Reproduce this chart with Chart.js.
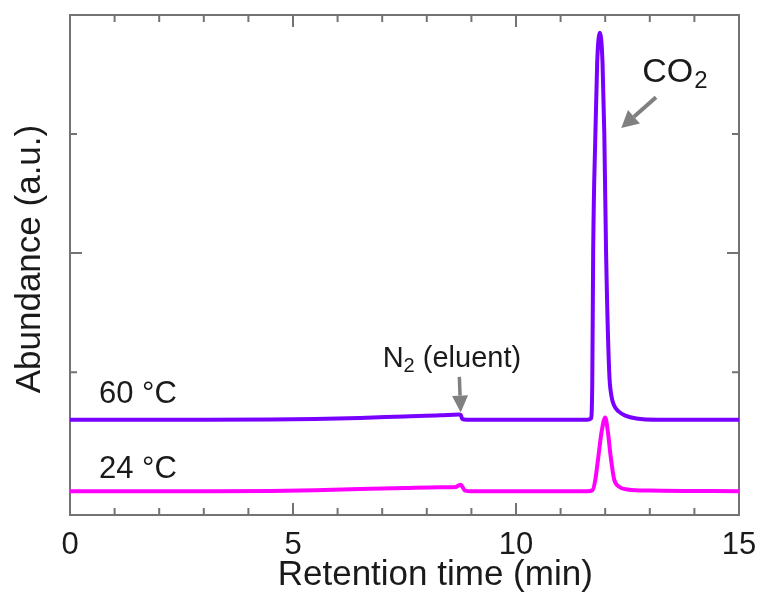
<!DOCTYPE html>
<html>
<head>
<meta charset="utf-8">
<script src="https://cdn.jsdelivr.net/npm/chart.js@4/dist/chart.umd.min.js"></script>
<style>
  html, body { margin: 0; padding: 0; background: #fff; }
  #wrap { width: 764px; height: 601px; }
</style>
</head>
<body>
<div id="wrap"><canvas id="gc"></canvas></div>
<script>
// retention times (min) and abundance (a.u.)
const times60 = [0, 3, 4.5, 5.5, 6.5, 7.5, 8.3, 8.72, 8.76, 8.8, 8.9, 10, 11.6, 11.68, 11.71, 11.73, 11.78, 11.82, 11.88, 11.94, 11.98, 12.02, 12.09, 12.14, 12.2, 12.3, 12.45, 12.7, 13.2, 15];
const abund60 = [0.6, 0.6, 0.602, 0.607, 0.615, 0.628, 0.637, 0.645, 0.64, 0.605, 0.6, 0.6, 0.6, 0.61, 0.9, 2.0, 3.0, 3.6, 3.85, 3.6, 3.0, 2.0, 1.0, 0.8, 0.72, 0.67, 0.635, 0.61, 0.6, 0.6];

const times24 = [0, 3, 4.5, 5.5, 6.5, 7.5, 8.3, 8.65, 8.72, 8.76, 8.8, 8.86, 9, 11.6, 11.72, 11.78, 11.85, 11.92, 12.0, 12.06, 12.12, 12.2, 12.3, 12.5, 13, 15];
const abund24 = [0, 0, 0.002, 0.008, 0.018, 0.027, 0.033, 0.036, 0.05, 0.055, 0.035, 0.005, 0, 0, 0.01, 0.1, 0.3, 0.5, 0.62, 0.5, 0.3, 0.1, 0.04, 0.015, 0.005, 0];

const xTickLabels = [0, 5, 10, 15];

const FONT = '"Liberation Sans", Arial, Helvetica, sans-serif';
Chart.defaults.font.family = FONT;

function toPoints(xs, ys) {
  return xs.map((t, i) => ({ x: t, y: ys[i] }));
}

function arrow(ctx, x1, y1, x2, y2, hl, hw) {
  const ang = Math.atan2(y2 - y1, x2 - x1);
  const bx = x2 - hl * Math.cos(ang), by = y2 - hl * Math.sin(ang);
  ctx.beginPath();
  ctx.moveTo(x1, y1);
  ctx.lineTo(bx, by);
  ctx.stroke();
  ctx.beginPath();
  ctx.moveTo(x2, y2);
  ctx.lineTo(bx + hw * Math.sin(ang), by - hw * Math.cos(ang));
  ctx.lineTo(bx - hw * Math.sin(ang), by + hw * Math.cos(ang));
  ctx.closePath();
  ctx.fill();
}

const frameAndNotes = {
  id: 'frameAndNotes',
  beforeDatasetsDraw(chart) {
    const { ctx, chartArea: a, scales: { x, y } } = chart;
    ctx.save();
    ctx.strokeStyle = '#737373';
    ctx.lineWidth = 2;
    ctx.strokeRect(a.left, a.top, a.right - a.left, a.bottom - a.top);
    ctx.beginPath();
    for (let t = 0; t <= 15; t++) {
      const px = x.getPixelForValue(t);
      const len = t % 5 === 0 ? 12 : 7;
      ctx.moveTo(px, a.bottom); ctx.lineTo(px, a.bottom - len);
      ctx.moveTo(px, a.top); ctx.lineTo(px, a.top + len);
    }
    for (let v = 0; v <= 4; v++) {
      const py = y.getPixelForValue(v);
      const len = v % 2 === 0 ? 12 : 7;
      ctx.moveTo(a.left, py); ctx.lineTo(a.left + len, py);
      ctx.moveTo(a.right, py); ctx.lineTo(a.right - len, py);
    }
    ctx.stroke();
    ctx.restore();
  },
  afterDraw(chart) {
    const { ctx, chartArea: a, scales: { x, y } } = chart;
    ctx.save();
    ctx.fillStyle = '#1a1a1a';
    ctx.textBaseline = 'alphabetic';

    // axis titles
    ctx.font = '35px ' + FONT;
    ctx.textAlign = 'center';
    ctx.fillText('Retention time (min)', x.getPixelForValue(8.19), a.bottom + 70);
    ctx.save();
    ctx.translate(a.left - 30, y.getPixelForValue(1.95));
    ctx.rotate(-Math.PI / 2);
    ctx.font = '35px ' + FONT;
    ctx.fillText('Abundance (a.u.)', 0, 0);
    ctx.restore();

    // series labels
    ctx.textAlign = 'left';
    ctx.font = '31px ' + FONT;
    ctx.fillText('60 °C', x.getPixelForValue(0.65), y.getPixelForValue(0.741));
    ctx.fillText('24 °C', x.getPixelForValue(0.65), y.getPixelForValue(0.111));

    // CO2 label
    let px = x.getPixelForValue(12.83), py = y.getPixelForValue(3.437);
    ctx.font = '34px ' + FONT;
    ctx.fillText('CO', px, py);
    px += ctx.measureText('CO').width + 1;
    ctx.font = '24px ' + FONT;
    ctx.fillText('2', px, py + 6);

    // N2 label
    px = x.getPixelForValue(7.01); py = y.getPixelForValue(1.043);
    ctx.font = '29px ' + FONT;
    ctx.fillText('N', px, py);
    px += ctx.measureText('N').width;
    ctx.font = '20px ' + FONT;
    ctx.fillText('2', px, py + 5);
    px += ctx.measureText('2').width;
    ctx.font = '29px ' + FONT;
    ctx.fillText(' (eluent)', px, py);

    // arrows
    ctx.strokeStyle = '#808080';
    ctx.fillStyle = '#808080';
    ctx.lineWidth = 4;
    arrow(ctx, x.getPixelForValue(13.14), y.getPixelForValue(3.31), x.getPixelForValue(12.36), y.getPixelForValue(3.05), 17, 9);
    ctx.lineWidth = 3.5;
    arrow(ctx, x.getPixelForValue(8.73), y.getPixelForValue(0.96), x.getPixelForValue(8.76), y.getPixelForValue(0.66), 17, 8);
    ctx.restore();
  }
};

new Chart(document.getElementById('gc'), {
  type: 'line',
  data: {
    datasets: [
      {
        label: '60 °C',
        data: toPoints(times60, abund60),
        borderColor: '#7700ff',
        borderWidth: 4,
        pointRadius: 0,
        cubicInterpolationMode: 'monotone',
      },
      {
        label: '24 °C',
        data: toPoints(times24, abund24),
        borderColor: '#ff00ff',
        borderWidth: 4,
        pointRadius: 0,
        cubicInterpolationMode: 'monotone',
      },
    ],
  },
  options: {
    responsive: true,
    maintainAspectRatio: false,
    animation: false,
    devicePixelRatio: 1,
    layout: { padding: { top: 15, right: 25, left: 0, bottom: 0 } },
    plugins: {
      legend: { display: false },
      tooltip: { enabled: false },
    },
    scales: {
      x: {
        type: 'linear',
        min: 0,
        max: 15,
        grid: { display: false },
        border: { display: false },
        afterFit: (s) => { s.height = 86; },
        afterBuildTicks: (s) => { s.ticks = xTickLabels.map((v) => ({ value: v })); },
        ticks: {
          padding: 4,
          color: '#1a1a1a',
          font: { size: 31 },
          maxRotation: 0,
        },
      },
      y: {
        type: 'linear',
        min: -0.2,
        max: 4,
        grid: { display: false },
        border: { display: false },
        ticks: { display: false },
        afterFit: (s) => { s.width = 70; },
      },
    },
  },
  plugins: [frameAndNotes],
});
</script>
</body>
</html>
